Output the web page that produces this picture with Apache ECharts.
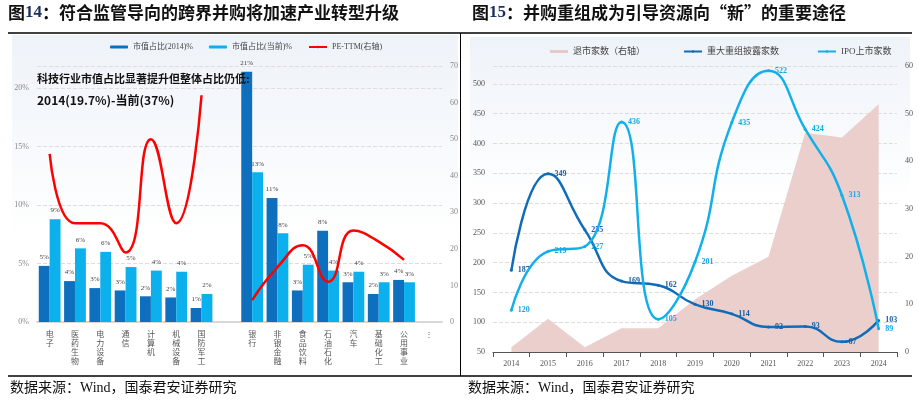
<!DOCTYPE html>
<html>
<head>
<meta charset="utf-8">
<script src="https://cdn.jsdelivr.net/npm/echarts@6/dist/echarts.min.js"></script>
<style>
  html, body { margin: 0; padding: 0; background: #fff; }
  #main { width: 918px; height: 406px; }
</style>
</head>
<body>
<div id="main"></div>
<script>
// NOTE - data, left panel (图14)
const industries = ['电子', '医药生物', '电力设备', '通信', '计算机', '机械设备', '国防军工', '',
  '银行', '非银金融', '食品饮料', '石油石化', '汽车', '基础化工', '公用事业', '⋮'];
const share2014 = [4.8, 3.5, 2.9, 2.7, 2.2, 2.1, 1.2, null, 21.4, 10.6, 2.7, 7.8, 3.4, 2.4, 3.6, null];
const shareNow = [8.8, 6.3, 6.0, 4.7, 4.4, 4.3, 2.4, null, 12.8, 7.6, 4.9, 4.4, 4.3, 3.4, 3.4, null];
const peTTM = [46, 27, 27, 19, 50, 27, 62, null, 6, 15, 21, 11, 25, 22, 17, null];

// NOTE - data, right panel (图15)
const years = ['2014', '2015', '2016', '2017', '2018', '2019', '2020', '2021', '2022', '2023', '2024'];
const delisted = [1, 7, 1, 5, 5, 11, 16, 20, 46, 45, 52];
const bigMA = [187, 349, 255, 169, 162, 130, 114, 92, 93, 67, 103];
const ipoCount = [120, 219, 227, 436, 105, 201, 435, 522, 424, 313, 89];

const serif = 'Liberation Serif, Noto Sans CJK SC';
const cjk = 'Noto Sans CJK SC';
const pct = p => p.value == null ? '' : Math.round(p.value) + '%';

var myChart = echarts.init(document.getElementById('main'));

var titleRich = {
  a: { fontFamily: cjk, fontWeight: 'bold', fontSize: 17, fill: '#111' },
  b: { fontFamily: serif, fontWeight: 'bold', fontSize: 17, fill: '#1f2f5c' }
};

var option = {
  animation: false,
  textStyle: { fontFamily: serif },
  graphic: [
    { type: 'rect', shape: { x: 12, y: 35, width: 446, height: 340 }, silent: true, z: -10,
      style: { fill: new echarts.graphic.LinearGradient(0, 0, 0, 1, [
        { offset: 0, color: '#eef3f9' }, { offset: 0.6, color: '#ffffff' }]) } },
    { type: 'rect', shape: { x: 470, y: 37, width: 440, height: 325 }, silent: true, z: -10,
      style: { fill: new echarts.graphic.LinearGradient(0, 0, 0, 1, [
        { offset: 0, color: '#eef3f9' }, { offset: 0.5, color: '#ffffff' }]) } },
    { type: 'text', left: 8, top: 4, style: { text: '{a|图}{b|14}{a|：符合监管导向的跨界并购将加速产业转型升级}', rich: titleRich } },
    { type: 'text', left: 472, top: 4, style: { text: '{a|图}{b|15}{a|：并购重组成为引导资源向“新”的重要途径}', rich: titleRich } },
    { type: 'line', shape: { x1: 8, y1: 33, x2: 912, y2: 33 }, style: { stroke: '#000', lineWidth: 1.5 } },
    { type: 'line', shape: { x1: 460.5, y1: 33, x2: 460.5, y2: 376 }, style: { stroke: '#000', lineWidth: 1 } },
    { type: 'line', shape: { x1: 8, y1: 376, x2: 912, y2: 376 }, style: { stroke: '#000', lineWidth: 1.5 } },
    { type: 'text', left: 10, top: 381, style: { text: '数据来源：Wind，国泰君安证券研究', font: '14px ' + serif, fill: '#111' } },
    { type: 'text', left: 468, top: 381, style: { text: '数据来源：Wind，国泰君安证券研究', font: '14px ' + serif, fill: '#111' } },
    { type: 'text', left: 37, top: 73, z: 100, style: { text: '科技行业市值占比显著提升但整体占比仍低:', font: 'bold 11px ' + cjk, fill: '#111' } },
    { type: 'text', left: 37, top: 94, z: 100, style: { text: '2014(19.7%)-当前(37%)', font: 'bold 12px ' + cjk, fill: '#111' } }
  ],
  legend: [
    { top: 38, left: 105, itemWidth: 18, itemHeight: 3, itemGap: 16, textStyle: { fontSize: 8, color: '#444' },
      data: ['市值占比(2014)%', '市值占比(当前)%', 'PE-TTM(右轴)'] },
    { top: 42, left: 545, itemWidth: 18, itemHeight: 3, itemGap: 38, textStyle: { fontSize: 9, color: '#444' },
      data: [{ name: '退市家数（右轴）', icon: 'rect' }, '重大重组披露家数', 'IPO上市家数'] }
  ],
  grid: [
    { left: 37, right: 476, top: 66, bottom: 84 },
    { left: 493, right: 21, top: 66, bottom: 54 }
  ],
  xAxis: [
    { type: 'category', gridIndex: 0, data: industries,
      axisLine: { lineStyle: { color: '#d8d8d8', width: 2 } }, axisTick: { show: false },
      axisLabel: { interval: 0, fontSize: 8, color: '#555', lineHeight: 9,
        formatter: v => v.split('').join('\n') } },
    { type: 'category', gridIndex: 1, data: years, boundaryGap: true,
      axisLine: { lineStyle: { color: '#555' } }, axisTick: { show: true, lineStyle: { color: '#555' } },
      axisLabel: { fontSize: 8, color: '#555' } }
  ],
  yAxis: [
    { type: 'value', gridIndex: 0, min: 0, max: 21.9, interval: 5,
      axisLabel: { fontSize: 8, color: '#888', formatter: '{value}%', showMaxLabel: false },
      splitLine: { lineStyle: { type: 'dashed', color: '#ddd' } } },
    { type: 'value', gridIndex: 0, min: 0, max: 70, interval: 10, position: 'right',
      axisLabel: { fontSize: 8, color: '#888' }, splitLine: { show: false } },
    { type: 'value', gridIndex: 1, min: 50, max: 530, interval: 50,
      axisLabel: { fontSize: 8, color: '#555', showMaxLabel: false },
      splitLine: { lineStyle: { type: 'dashed', color: '#ddd' } } },
    { type: 'value', gridIndex: 1, min: 0, max: 60, interval: 10, position: 'right',
      axisLabel: { fontSize: 8, color: '#555' }, splitLine: { show: false } }
  ],
  series: [
    { name: '市值占比(2014)%', type: 'bar', xAxisIndex: 0, yAxisIndex: 0, data: share2014,
      barGap: '0%', barCategoryGap: '14%', itemStyle: { color: '#0f6fbf' },
      label: { show: true, position: 'top', fontSize: 7, color: '#444', formatter: pct } },
    { name: '市值占比(当前)%', type: 'bar', xAxisIndex: 0, yAxisIndex: 0, data: shareNow,
      itemStyle: { color: '#0bb0ec' },
      label: { show: true, position: 'top', fontSize: 7, color: '#444', formatter: pct } },
    { name: 'PE-TTM(右轴)', type: 'line', xAxisIndex: 0, yAxisIndex: 1, data: peTTM,
      smooth: true, symbol: 'none', connectNulls: false, lineStyle: { color: '#f00', width: 2.5 },
      itemStyle: { color: '#f00' } },

    { name: '退市家数（右轴）', type: 'line', xAxisIndex: 1, yAxisIndex: 3, data: delisted,
      symbol: 'none', lineStyle: { width: 0 }, itemStyle: { color: '#e8c9c8' },
      areaStyle: { color: '#ebcfcd', opacity: 1 }, z: 1 },
    { name: '重大重组披露家数', type: 'line', xAxisIndex: 1, yAxisIndex: 2, data: bigMA,
      smooth: true, symbol: 'circle', symbolSize: 3, lineStyle: { color: '#116cb8', width: 2.5 },
      itemStyle: { color: '#116cb8' }, z: 3,
      label: { show: true, position: 'right', fontSize: 8, fontWeight: 'bold', color: '#1a5ea6' } },
    { name: 'IPO上市家数', type: 'line', xAxisIndex: 1, yAxisIndex: 2, data: ipoCount,
      smooth: true, symbol: 'circle', symbolSize: 3, lineStyle: { color: '#12b0ea', width: 2.5 },
      itemStyle: { color: '#12b0ea' }, z: 4,
      label: { show: true, position: 'right', fontSize: 8, fontWeight: 'bold', color: '#14a9e6' } }
  ]
};

myChart.setOption(option);
</script>
</body>
</html>
